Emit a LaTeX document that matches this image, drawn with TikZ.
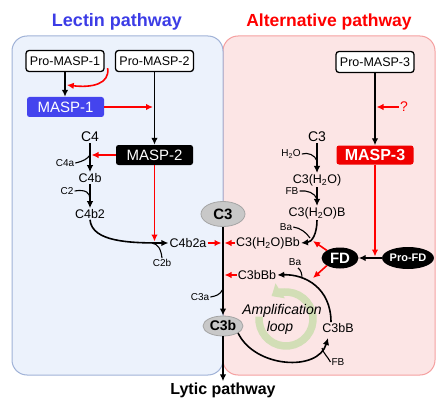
\documentclass[tikz,border=0pt]{standalone}
\usepackage{fontspec}
\setmainfont{Liberation Sans}
\usetikzlibrary{arrows.meta,calc,shapes.geometric}
\definecolor{bluef}{RGB}{236,242,252}
\definecolor{blueb}{RGB}{160,178,215}
\definecolor{pinkf}{RGB}{252,229,229}
\definecolor{pinkb}{RGB}{245,160,160}
\definecolor{tblue}{RGB}{60,60,230}
\definecolor{mblue}{RGB}{68,68,238}
\definecolor{mred}{RGB}{240,0,0}
\definecolor{ellg}{RGB}{200,200,200}
\definecolor{ellb}{RGB}{165,165,165}
\definecolor{loopc}{RGB}{210,222,182}
\newcommand{\fsz}[1]{\fontsize{#1}{#1}\selectfont}
\begin{document}
\begin{tikzpicture}[x=1pt,y=-1pt,
  ar/.style={line width=1.6pt,-{Latex[length=7pt,width=6.5pt]}},
  rar/.style={ar,red},
  hook/.style={line width=1.1pt},
  lbl/.style={inner sep=1pt,font=\fsz{12.5}},
  sm/.style={inner sep=1pt,font=\fsz{10}},
  probox/.style={draw,line width=1.3pt,rounded corners=3pt,fill=white,minimum width=78pt,minimum height=21pt,inner sep=0pt,font=\fsz{12.5}},
  maspbox/.style={rounded corners=2.5pt,minimum width=77pt,minimum height=20pt,inner sep=0pt,text=white,font=\fsz{15}},
  gell/.style={ellipse,fill=ellg,draw=ellb,line width=0.8pt,inner sep=0pt,font=\bfseries\fsz{15}},
  bell/.style={ellipse,fill=black,text=white,inner sep=0pt}]
\useasboundingbox (0,0) rectangle (445,404);
% panels
\draw[fill=pinkf,draw=pinkb,line width=1pt,rounded corners=15pt] (223,36) rectangle (435,375);
\draw[fill=bluef,draw=blueb,line width=1pt,rounded corners=15pt] (12,36) rectangle (223,375);
% titles
\node[font=\bfseries\fsz{18},text=tblue] (tL) at (117,22) {Lectin pathway};
\node[font=\bfseries\fsz{17.5},text=red] (tA) at (329,22) {Alternative pathway};
% lectin
\node[probox] (pm1) at (65,61) {Pro-MASP-1};
\node[probox] (pm2) at (154.5,61) {Pro-MASP-2};
\node[maspbox,fill=mblue] (m1) at (65.5,107) {MASP-1};
\node[maspbox,fill=black] (m2) at (154.5,155) {MASP-2};
\node[lbl,font=\fsz{14}] (c4) at (90,137) {C4};
\node[sm] (c4a) at (65,163) {C4a};
\node[lbl] (c4b) at (90,178) {C4b};
\node[sm] (c2) at (67,191) {C2};
\node[lbl] (c4b2) at (90,214) {C4b2};
\node[lbl] (c4b2a) at (188,243) {C4b2a};
\node[sm] (c2b) at (162,263) {C2b};
\node[gell,minimum width=44pt,minimum height=25pt] (c3) at (223,214) {C3};
\node[sm] (c3a) at (200,297) {C3a};
\node[gell,minimum width=40pt,minimum height=20pt,font=\bfseries\fsz{14}] (c3b) at (223,326) {C3b};
\node[font=\bfseries\fsz{16},inner sep=1pt] (lytic) at (223,390) {Lytic pathway};
% alternative
\node[probox] (pm3) at (375,62) {Pro-MASP-3};
\node[maspbox,fill=mred,font=\bfseries\fsz{16},minimum height=19pt] (m3) at (375,155) {MASP-3};
\node[text=red,font=\fsz{14},inner sep=1pt] (q) at (404,107) {?};
\node[lbl,font=\fsz{14}] (c3r) at (317,137) {C3};
\node[sm] (h2o) at (291,154) {H\textsubscript{2}O};
\node[lbl] (c3h) at (317,180) {C3(H\textsubscript{2}O)};
\node[sm] (fb1) at (292,191) {FB};
\node[lbl] (c3hb) at (317,213) {C3(H\textsubscript{2}O)B};
\node[sm] (ba1) at (286,227) {Ba};
\node[lbl] (c3hbb) at (268,243) {C3(H\textsubscript{2}O)Bb};
\node[sm] (ba2) at (295,262) {Ba};
\node[lbl] (c3bbb) at (257,275) {C3bBb};
\node[lbl] (c3bB) at (338,328) {C3bB};
\node[sm] (fb2) at (338,362) {FB};
\node[bell,minimum width=37pt,minimum height=21pt,font=\bfseries\fsz{15}] (fd) at (340,258) {FD};
\node[bell,minimum width=47pt,minimum height=22pt,font=\bfseries\fsz{11}] (pfd) at (408,258) {Pro-FD};
% amplification loop
\coordinate (lc) at (286,319);
\draw[loopc,line width=7.5pt,-{Triangle[length=10pt,width=17pt]}] ($(lc)+(-175:27)$) arc[start angle=-175,end angle=-482,radius=27];
\node[font=\itshape\fsz{14},inner sep=1pt] (amp) at (282,311) {Amplification};
\node[font=\itshape\fsz{14},inner sep=1pt] (loop) at (280,328) {loop};
% lectin arrows
\draw[ar] (pm1.south) -- (pm1.south |- m1.north);
\coordinate (j1) at (66.8,85);
\draw[rar] ($(pm1.south east)+(3,-4)$) .. controls (110,84) and (92,88) .. (j1);
\draw[rar] (m1.east) -- ($(m1.east -| pm2.south)+(-1.5,0)$);
\draw[ar] (pm2.south) -- (m2.north);
\draw[rar] (m2.west) -- ($(m2.west -| c4.south)+(1.5,0)$);
\draw[ar] (c4.south) -- (c4b.north);
\draw[hook] (c4a.east) .. controls (84,161) and (87,159) .. (90,155);
\draw[ar] (c4b.south) -- (c4b2.north);
\draw[hook] (c2.east) .. controls (86,189) and (90,193) .. (90,199);
\draw[ar] (c4b2.south) .. controls (92,242) and (130,243) .. (c4b2a.west);
\draw[hook] (152,243) .. controls (158,244) and (161,249) .. (c2b.north);
\draw[rar] (m2.south) -- ($(m2.south |- c4b2a.west)+(0,-1.5)$);
\draw[ar] (c3.south) -- (c3b.north);
\draw[hook] (c3a.east) .. controls (216,296) and (220,295) .. (223,289);
\draw[rar] (c4b2a.east) -- (221.5,243);
\draw[rar] (c3hbb.west) -- (224.5,243);
\draw[rar] (c3bbb.west) -- (224.5,275);
\draw[ar] (c3b.south) -- (lytic.north);
% alternative arrows
\draw[ar] (pm3.south) -- (m3.north);
\draw[rar] (q.west) -- (376.5,107);
\draw[ar] (c3r.south) -- (c3h.north);
\draw[hook] (h2o.east) .. controls (308,152) and (315,155) .. (317,161);
\draw[ar] (c3h.south) -- (c3hb.north);
\draw[hook] (fb1.east) .. controls (307,190) and (315,193) .. (317,199);
\draw[ar] (c3hb.south) .. controls (317,234) and (312,242) .. (c3hbb.east);
\draw[hook] (ba1.east) .. controls (300,228) and (306,232) .. (310,238);
\draw[ar] (pfd.west) -- (fd.east);
\draw[rar] (m3.south) -- ($(m3.south |- fd.east)+(0,-1.5)$);
\draw[rar] (fd.150) -- (313,241);
\draw[rar] (fd.210) -- (313,278);
\draw[ar] (c3b.-25) .. controls (255,368) and (318,372) .. (328,338);
\draw[hook] (fb2.west) .. controls (328,357) and (323,353) .. (322,348);
\draw[ar] ($(c3bB.north)+(-7,0)$) .. controls (331,288) and (305,274) .. (c3bbb.east);
\draw[hook] (298,268) .. controls (301,270) and (302,274) .. (302,278);
\end{tikzpicture}
\end{document}
